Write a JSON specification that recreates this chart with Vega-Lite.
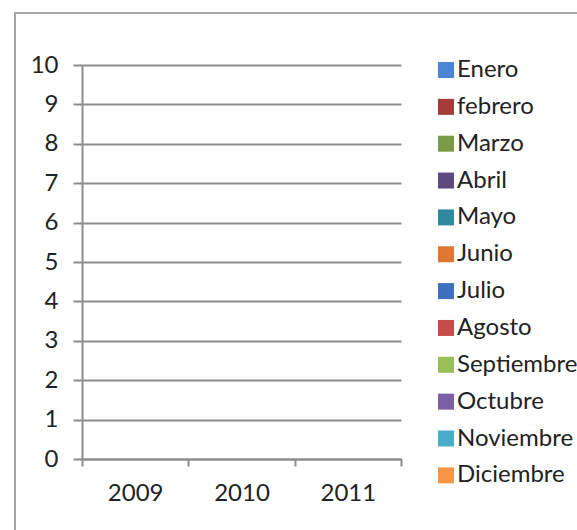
{
  "$schema": "https://vega.github.io/schema/vega-lite/v6.json",
  "width": 572,
  "height": 527,
  "autosize": {"type": "none"},
  "padding": {"left": 15, "top": 13, "right": 0, "bottom": 0},
  "background": "white",
  "config": {
    "view": {"stroke": "#a6a6a6", "strokeWidth": 2},
    "font": "Lato"
  },
  "data": {
    "values": [
      {"year": "2009", "month": "Enero", "value": null},
      {"year": "2009", "month": "febrero", "value": null},
      {"year": "2009", "month": "Marzo", "value": null},
      {"year": "2009", "month": "Abril", "value": null},
      {"year": "2009", "month": "Mayo", "value": null},
      {"year": "2009", "month": "Junio", "value": null},
      {"year": "2009", "month": "Julio", "value": null},
      {"year": "2009", "month": "Agosto", "value": null},
      {"year": "2009", "month": "Septiembre", "value": null},
      {"year": "2009", "month": "Octubre", "value": null},
      {"year": "2009", "month": "Noviembre", "value": null},
      {"year": "2009", "month": "Diciembre", "value": null},
      {"year": "2010", "month": "Enero", "value": null},
      {"year": "2010", "month": "febrero", "value": null},
      {"year": "2010", "month": "Marzo", "value": null},
      {"year": "2010", "month": "Abril", "value": null},
      {"year": "2010", "month": "Mayo", "value": null},
      {"year": "2010", "month": "Junio", "value": null},
      {"year": "2010", "month": "Julio", "value": null},
      {"year": "2010", "month": "Agosto", "value": null},
      {"year": "2010", "month": "Septiembre", "value": null},
      {"year": "2010", "month": "Octubre", "value": null},
      {"year": "2010", "month": "Noviembre", "value": null},
      {"year": "2010", "month": "Diciembre", "value": null},
      {"year": "2011", "month": "Enero", "value": null},
      {"year": "2011", "month": "febrero", "value": null},
      {"year": "2011", "month": "Marzo", "value": null},
      {"year": "2011", "month": "Abril", "value": null},
      {"year": "2011", "month": "Mayo", "value": null},
      {"year": "2011", "month": "Junio", "value": null},
      {"year": "2011", "month": "Julio", "value": null},
      {"year": "2011", "month": "Agosto", "value": null},
      {"year": "2011", "month": "Septiembre", "value": null},
      {"year": "2011", "month": "Octubre", "value": null},
      {"year": "2011", "month": "Noviembre", "value": null},
      {"year": "2011", "month": "Diciembre", "value": null}
    ]
  },
  "mark": {"type": "bar"},
  "encoding": {
    "x": {
      "field": "year",
      "type": "ordinal",
      "scale": {"domain": ["2009", "2010", "2011"], "range": [67, 386], "paddingInner": 0, "paddingOuter": 0},
      "axis": {
        "title": null,
        "offset": -81,
        "tickBand": "extent",
        "grid": false,
        "domainColor": "#8c8c8c",
        "domainWidth": 2,
        "tickColor": "#8c8c8c",
        "tickWidth": 2,
        "tickSize": 7,
        "labelAngle": 0,
        "labelFont": "Lato",
        "labelFontSize": 24,
        "labelColor": "#222222",
        "labelPadding": 15
      }
    },
    "xOffset": {
      "field": "month",
      "type": "nominal",
      "scale": {"domain": ["Enero", "febrero", "Marzo", "Abril", "Mayo", "Junio", "Julio", "Agosto", "Septiembre", "Octubre", "Noviembre", "Diciembre"]}
    },
    "y": {
      "field": "value",
      "type": "quantitative",
      "scale": {"domain": [0, 10], "range": [446, 52], "nice": false, "zero": true},
      "axis": {
        "title": null,
        "offset": -67,
        "values": [0, 1, 2, 3, 4, 5, 6, 7, 8, 9, 10],
        "grid": true,
        "gridColor": "#8c8c8c",
        "gridWidth": 2,
        "domainColor": "#8c8c8c",
        "domainWidth": 2,
        "tickColor": "#8c8c8c",
        "tickWidth": 2,
        "tickSize": 9,
        "labelFont": "Lato",
        "labelFontSize": 24,
        "labelColor": "#222222",
        "labelPadding": 15
      }
    },
    "color": {
      "field": "month",
      "type": "nominal",
      "scale": {
        "domain": ["Enero", "febrero", "Marzo", "Abril", "Mayo", "Junio", "Julio", "Agosto", "Septiembre", "Octubre", "Noviembre", "Diciembre"],
        "range": ["#4a86d6", "#a53c3a", "#7a9a45", "#5e4a7e", "#2f8aa0", "#dd7733", "#3f6fbf", "#c44c4a", "#98bf58", "#7e5fa5", "#49adc9", "#f79646"]
      },
      "legend": {
        "title": null,
        "orient": "none",
        "legendX": 419,
        "legendY": 45,
        "symbolType": "square",
        "symbolSize": 256,
        "symbolStrokeWidth": 0,
        "symbolOpacity": 1,
        "labelFont": "Lato",
        "labelFontSize": 24,
        "labelColor": "#222222",
        "labelOffset": -1,
        "labelLimit": 400,
        "rowPadding": 12.85
      }
    }
  }
}
